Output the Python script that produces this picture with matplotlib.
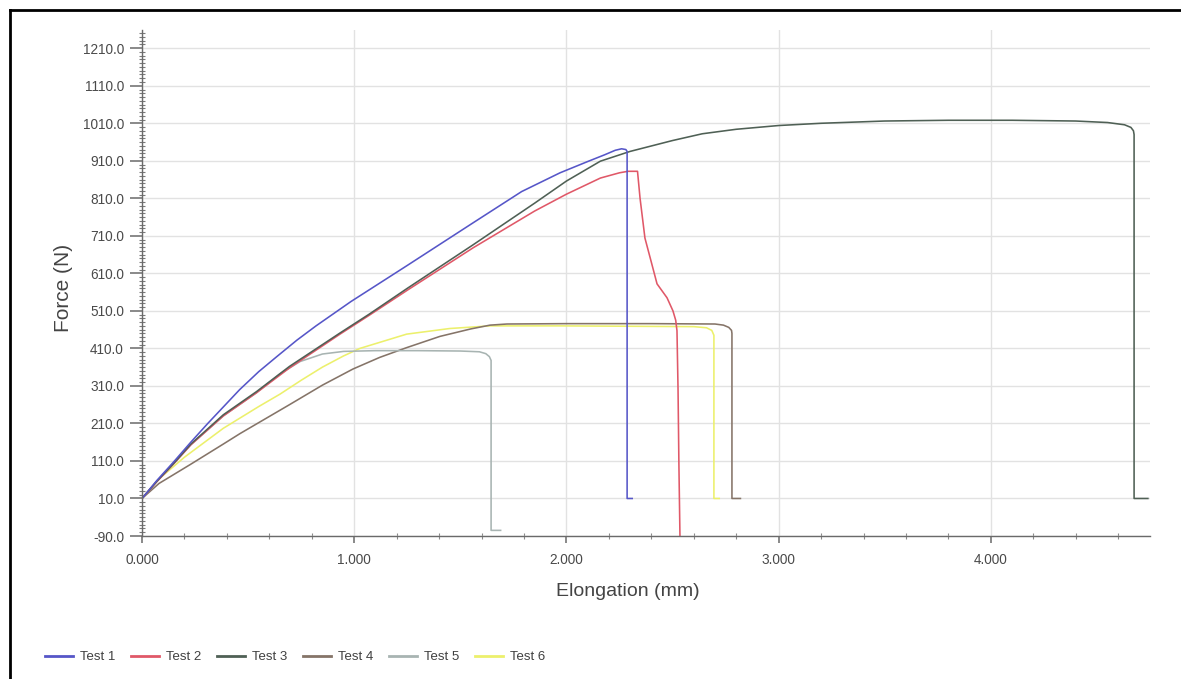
import matplotlib
matplotlib.use("Agg")
import matplotlib.pyplot as plt
from matplotlib.lines import Line2D
from matplotlib.ticker import MultipleLocator, FixedLocator, FormatStrFormatter

# ---- data ----
test1_x = [0, 0.07, 0.15, 0.23, 0.31, 0.46, 0.55, 0.635, 0.73, 0.82, 0.985, 1.247, 1.561, 1.789, 1.97, 2.1, 2.18, 2.23, 2.26, 2.28, 2.286, 2.286, 2.31]
test1_y = [10, 58, 108, 160, 210, 300, 348, 388, 432, 470, 535, 630, 745, 828, 878, 908, 926, 938, 942, 940, 935, 10, 10]

test2_x = [0, 0.07, 0.15, 0.23, 0.383, 0.54, 0.695, 0.933, 1.07, 1.25, 1.56, 1.85, 2.0, 2.16, 2.25, 2.29, 2.335, 2.347, 2.37, 2.40, 2.427, 2.474, 2.502, 2.515, 2.521, 2.526, 2.53, 2.535]
test2_y = [10, 55, 103, 153, 230, 292, 358, 448, 498, 565, 678, 776, 821, 864, 878, 882, 882, 810, 704, 640, 582, 545, 510, 485, 457, 300, 103, -90]

test3_x = [0, 0.07, 0.15, 0.23, 0.383, 0.54, 0.695, 0.933, 1.07, 1.25, 1.56, 1.85, 2.0, 2.16, 2.30, 2.5, 2.64, 2.8, 3.0, 3.2, 3.5, 3.8, 4.1, 4.4, 4.55, 4.63, 4.66, 4.672, 4.675, 4.675, 4.74]
test3_y = [10, 56, 104, 155, 233, 295, 362, 451, 501, 570, 686, 797, 856, 909, 935, 964, 982, 994, 1004, 1010, 1016, 1018, 1018, 1016, 1012, 1006, 999, 990, 980, 10, 10]

test4_x = [0, 0.08, 0.226, 0.383, 0.462, 0.695, 0.85, 0.994, 1.12, 1.247, 1.404, 1.55, 1.64, 1.72, 2.0, 2.4, 2.7, 2.74, 2.765, 2.778, 2.78, 2.78, 2.82]
test4_y = [10, 50, 100, 155, 183, 260, 312, 355, 386, 412, 442, 462, 472, 475, 476, 476, 475, 472, 466, 458, 450, 10, 10]

test5_x = [0, 0.07, 0.15, 0.23, 0.383, 0.54, 0.65, 0.745, 0.85, 0.95, 1.1, 1.3, 1.5, 1.59, 1.62, 1.637, 1.645, 1.645, 1.69]
test5_y = [10, 55, 103, 153, 230, 292, 342, 375, 395, 402, 404, 404, 403, 401, 396, 388, 378, -75, -75]

test6_x = [0, 0.08, 0.2, 0.383, 0.55, 0.65, 0.75, 0.85, 0.95, 1.027, 1.247, 1.45, 1.64, 1.97, 2.3, 2.6, 2.66, 2.685, 2.695, 2.695, 2.72]
test6_y = [10, 62, 120, 197, 255, 288, 325, 360, 390, 410, 448, 463, 470, 470, 469, 468, 465, 458, 445, 10, 10]

series = [
    ("Test 1", test1_x, test1_y, "#5656c8"),
    ("Test 2", test2_x, test2_y, "#e05868"),
    ("Test 3", test3_x, test3_y, "#4f6055"),
    ("Test 4", test4_x, test4_y, "#857468"),
    ("Test 5", test5_x, test5_y, "#a8b4b2"),
    ("Test 6", test6_x, test6_y, "#ecf06c"),
]

y_major = [-90 + 100 * i for i in range(14)]

plt.rcParams['font.family'] = ['Liberation Sans', 'DejaVu Sans']

W, H = 1181, 679
fig = plt.figure(figsize=(W / 100, H / 100), dpi=100)
ax = fig.add_axes([142 / W, (H - 536) / H, (1150 - 142) / W, (536 - 30) / H])

handles = {}
draw_order = [5, 3, 4, 1, 2, 0]
for i in draw_order:
    name, xs, ys, col = series[i]
    ln, = ax.plot(xs, ys, color=col, lw=1.15, label=name, solid_joinstyle='round')
    handles[name] = ln

ax.set_xlim(0, 4.75)
ax.set_ylim(-90, 1258.6)

ax.yaxis.set_major_locator(FixedLocator(y_major))
ax.yaxis.set_minor_locator(MultipleLocator(10))
ax.yaxis.set_major_formatter(FormatStrFormatter('%.1f'))
ax.xaxis.set_major_locator(MultipleLocator(1.0))
ax.xaxis.set_minor_locator(MultipleLocator(0.2))
ax.xaxis.set_major_formatter(FormatStrFormatter('%.3f'))

ax.grid(True, which='major', color='#e2e2e2', lw=1.0)
ax.set_axisbelow(True)

for s in ['top', 'right']:
    ax.spines[s].set_visible(False)
for s in ['left', 'bottom']:
    ax.spines[s].set_color('#6a6a6a')
    ax.spines[s].set_linewidth(1.0)

ax.tick_params(axis='y', which='major', direction='out', length=9, width=1.1, color='#6a6a6a',
               labelsize=9.8, labelcolor='#4a4a4a', pad=4)
ax.tick_params(axis='y', which='minor', direction='inout', length=5, width=0.8, color='#7a7a7a')
ax.tick_params(axis='x', which='major', direction='out', length=5, width=1.1, color='#6a6a6a',
               labelsize=9.8, labelcolor='#4a4a4a', pad=7)
ax.tick_params(axis='x', which='minor', direction='inout', length=5, width=0.8, color='#8a8a8a')

ax.set_ylabel("Force (N)", fontsize=15, color='#444444')
ax.yaxis.set_label_coords(-0.068, 0.49)
ax.set_xlabel("Elongation (mm)", fontsize=14, color='#444444')
ax.xaxis.set_label_coords(0.482, -0.092)

order = ["Test 1", "Test 2", "Test 3", "Test 4", "Test 5", "Test 6"]
leg = fig.legend([handles[n] for n in order], order, loc='center left',
                 bbox_to_anchor=(45 / W, 22 / H), ncol=6, frameon=False,
                 fontsize=9.5, handlelength=2.1, handletextpad=0.55, columnspacing=1.2,
                 borderpad=0, borderaxespad=0)
for t in leg.get_texts():
    t.set_color('#404040')
for l in leg.get_lines():
    l.set_linewidth(2.0)

# outer picture frame (top and left edges visible in the reference)
fig.add_artist(Line2D([10 / W, 10 / W], [0, 1 - 10 / H], transform=fig.transFigure, color='black', lw=2))
fig.add_artist(Line2D([10 / W, 1], [1 - 10 / H, 1 - 10 / H], transform=fig.transFigure, color='black', lw=2))

fig.savefig("out.png", dpi=100)
